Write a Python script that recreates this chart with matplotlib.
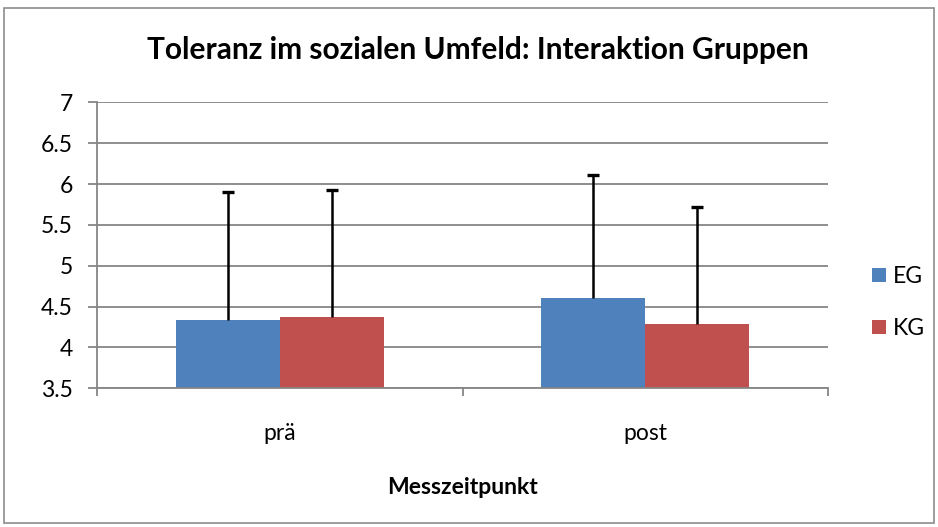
import matplotlib
matplotlib.use("Agg")
import matplotlib.pyplot as plt
from matplotlib.patches import Rectangle
import numpy as np

categories = ["prä", "post"]
series_names = ["EG", "KG"]
eg_means = [4.34, 4.61]
kg_means = [4.37, 4.29]
eg_sd = [1.56, 1.50]
kg_sd = [1.56, 1.43]

colors = ["#4F81BD", "#C0504D"]
plt.rcParams['font.family'] = ['Lato', 'DejaVu Sans']
FS = 16.5

fig = plt.figure(figsize=(9.38, 5.27), dpi=100)
ax = fig.add_axes([97/938, 1-388.3/527, (828-97)/938, (388.3-102.3)/527])

fig.patches.append(Rectangle((4/938, 4/527), 930/938, 515/527, transform=fig.transFigure,
                             fill=False, edgecolor="#8C8C8C", linewidth=1.2, zorder=0))

x = np.arange(len(categories))
w = 0.285
base = 3.5
for i, (means, sd) in enumerate([(eg_means, eg_sd), (kg_means, kg_sd)]):
    pos = x + (i - 0.5) * w
    means = np.array(means)
    tops = means + np.array(sd)
    ax.bar(pos, means - base, w, bottom=base, color=colors[i], label=series_names[i], zorder=2)
    ax.vlines(pos, means, tops, colors='black', linewidth=1.8, zorder=3)
    ax.plot(pos, tops, linestyle='none', marker='_', markersize=9, markeredgewidth=2.4,
            color='black', zorder=3)

ax.set_ylim(3.5, 7)
ax.set_xlim(-0.5, 1.5)
ax.set_yticks(np.arange(3.5, 7.01, 0.5))
ax.set_yticklabels(["3.5", "4", "4.5", "5", "5.5", "6", "6.5", "7"])
ax.yaxis.grid(True, color="#868686", linewidth=1.3, zorder=0)
ax.set_axisbelow(True)

ax.set_xticks([-0.5, 0.5, 1.5])
ax.set_xticklabels([])
ax.set_xticks(x, minor=True)
ax.set_xticklabels(categories, minor=True, fontsize=FS)
ax.tick_params(axis='x', which='minor', length=0, pad=25)
ax.tick_params(axis='x', which='major', length=6, color="#868686", width=1.3)
ax.tick_params(axis='y', length=6.5, color="#868686", width=1.3, labelsize=FS, pad=11)

for s in ["top", "right"]:
    ax.spines[s].set_visible(False)
for s in ["left", "bottom"]:
    ax.spines[s].set_color("#868686")
    ax.spines[s].set_linewidth(1.3)

ax.set_xlabel("Messzeitpunkt", fontsize=FS, fontweight='bold', labelpad=24)
fig.text(478/938, 1-50/527, "Toleranz im sozialen Umfeld: Interaktion Gruppen",
         ha='center', va='center', fontsize=21.5, fontweight='bold')

leg = ax.legend(loc='center left', bbox_to_anchor=(872/938, 1-302.5/527),
                bbox_transform=fig.transFigure, frameon=False, fontsize=FS,
                handlelength=0.6, handleheight=0.6, handletextpad=0.3, labelspacing=1.35,
                borderpad=0, borderaxespad=0)

fig.savefig("out.png", dpi=100)
